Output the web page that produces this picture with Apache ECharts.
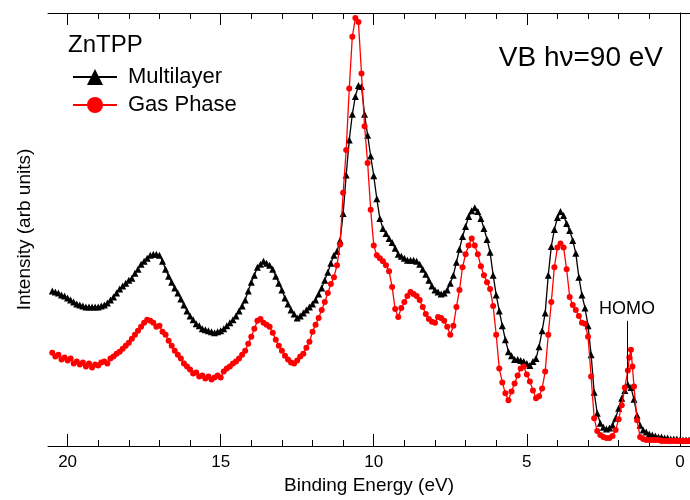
<!DOCTYPE html>
<html>
<head>
<meta charset="utf-8">
<script src="https://cdn.jsdelivr.net/npm/echarts@6/dist/echarts.min.js"></script>
<style>html,body{margin:0;padding:0;background:#fff}#c{width:690px;height:500px}</style>
</head>
<body>
<div id="c"></div>
<script>
// Binding energy (eV), intensity (arb units)
const multilayer = [
[20.5,156],[20.4,155],[20.3,154],[20.2,152],[20.1,151],[20.0,149],[19.9,147],[19.8,145],[19.7,143],[19.6,142],
[19.5,141],[19.4,140],[19.3,140],[19.2,140],[19.1,140],[19.0,140],[18.9,141],[18.8,142],[18.7,144],[18.6,147],
[18.5,150],[18.4,154],[18.3,158],[18.2,161],[18.1,164],[18.0,167],[17.9,169],[17.8,174],[17.7,178],[17.6,183],
[17.5,186],[17.4,189],[17.3,192],[17.2,193],[17.1,193],[17.0,192],[16.9,186],[16.8,178],[16.7,171],[16.6,165],
[16.5,159],[16.4,154],[16.3,148],[16.2,142],[16.1,136],[16.0,131],[15.9,127],[15.8,123],[15.7,121],[15.6,118],
[15.5,117],[15.4,116],[15.3,115],[15.2,114],[15.1,115],[15.0,116],[14.9,118],[14.8,121],[14.7,124],[14.6,127],
[14.5,131],[14.4,136],[14.3,141],[14.2,147],[14.1,156],[14.0,165],[13.9,172],[13.8,180],[13.7,183],[13.6,186],
[13.5,184],[13.4,182],[13.3,178],[13.2,171],[13.1,164],[13.0,157],[12.9,149],[12.8,143],[12.7,137],[12.6,133],
[12.5,129],[12.4,131],[12.3,134],[12.2,137],[12.1,140],[12.0,143],[11.9,147],[11.8,153],[11.7,159],[11.6,167],
[11.5,175],[11.4,184],[11.3,192],[11.2,196],[11.1,207],[11.0,234],[10.9,273],[10.8,308],[10.7,334],[10.6,352],
[10.5,363],[10.4,362],[10.3,334],[10.2,313],[10.1,292],[10.0,272],[9.9,249],[9.8,229],[9.7,219],[9.6,214],
[9.5,209],[9.4,205],[9.3,199],[9.2,193],[9.1,191],[9.0,189],[8.9,187],[8.8,187],[8.7,187],[8.6,186],
[8.5,183],[8.4,178],[8.3,173],[8.2,167],[8.1,161],[8.0,157],[7.9,155],[7.8,153],[7.7,154],[7.6,157],
[7.5,164],[7.4,172],[7.3,185],[7.2,198],[7.1,211],[7.0,221],[6.9,231],[6.8,237],[6.7,240],[6.6,236],
[6.5,229],[6.4,219],[6.3,208],[6.2,195],[6.1,172],[6.0,152],[5.9,136],[5.8,121],[5.7,107],[5.6,95],
[5.5,91],[5.4,87],[5.3,87],[5.2,86],[5.1,85],[5.0,83],[4.9,81],[4.8,85],[4.7,88],[4.6,100],
[4.5,116],[4.4,134],[4.3,172],[4.2,201],[4.1,218],[4.0,230],[3.9,236],[3.8,232],[3.7,224],[3.6,217],
[3.5,207],[3.4,194],[3.3,170],[3.2,152],[3.1,139],[3.0,121],[2.9,92],[2.8,54],[2.7,33],[2.6,23],
[2.5,19],[2.4,17],[2.3,18],[2.2,21],[2.1,28],[2.0,38],[1.9,48],[1.8,56],[1.7,62],[1.6,59],
[1.5,47],[1.4,31],[1.3,21],[1.2,16],[1.1,14],[1.0,12],[0.9,11],[0.8,10],[0.7,9],[0.6,9],
[0.5,8],[0.4,8],[0.3,7],[0.2,7],[0.1,7],[0.0,6],[-0.1,6],[-0.2,6],[-0.3,6]
];
const gasPhase = [
[20.5,94],[20.4,90],[20.3,92],[20.2,87],[20.1,89],[20.0,86],[19.9,88],[19.8,83],[19.7,85],[19.6,82],
[19.5,84],[19.4,80],[19.3,83],[19.2,79],[19.1,82],[19.0,81],[18.9,84],[18.8,85],[18.7,83],[18.6,88],
[18.5,90],[18.4,93],[18.3,95],[18.2,98],[18.1,101],[18.0,104],[17.9,108],[17.8,112],[17.7,116],[17.6,120],
[17.5,124],[17.4,127],[17.3,126],[17.2,124],[17.1,120],[17.0,121],[16.9,115],[16.8,112],[16.7,106],[16.6,101],
[16.5,96],[16.4,92],[16.3,88],[16.2,83],[16.1,80],[16.0,77],[15.9,73],[15.8,74],[15.7,70],[15.6,71],
[15.5,68],[15.4,70],[15.3,67],[15.2,69],[15.1,71],[15.0,69],[14.9,75],[14.8,78],[14.7,80],[14.6,83],
[14.5,85],[14.4,88],[14.3,92],[14.2,96],[14.1,103],[14.0,110],[13.9,118],[13.8,126],[13.7,128],[13.6,124],
[13.5,122],[13.4,120],[13.3,114],[13.2,107],[13.1,101],[13.0,96],[12.9,91],[12.8,87],[12.7,84],[12.6,83],
[12.5,86],[12.4,90],[12.3,93],[12.2,99],[12.1,105],[12.0,115],[11.9,122],[11.8,129],[11.7,137],[11.6,145],
[11.5,154],[11.4,163],[11.3,170],[11.2,182],[11.1,203],[11.0,255],[10.9,298],[10.8,360],[10.7,412],[10.6,431],
[10.5,427],[10.4,375],[10.3,322],[10.2,285],[10.1,238],[10.0,202],[9.9,192],[9.8,189],[9.7,186],[9.6,182],
[9.5,176],[9.4,160],[9.3,138],[9.2,130],[9.1,139],[9.0,145],[8.9,151],[8.8,155],[8.7,153],[8.6,151],
[8.5,147],[8.4,140],[8.3,133],[8.2,128],[8.1,125],[8.0,124],[7.9,130],[7.8,129],[7.7,126],[7.6,120],
[7.5,112],[7.4,121],[7.3,140],[7.2,157],[7.1,180],[7.0,193],[6.9,202],[6.8,209],[6.7,202],[6.6,193],
[6.5,181],[6.4,172],[6.3,165],[6.2,158],[6.1,141],[6.0,112],[5.9,78],[5.8,64],[5.7,53],[5.6,46],
[5.5,55],[5.4,63],[5.3,71],[5.2,78],[5.1,80],[5.0,72],[4.9,65],[4.8,56],[4.7,48],[4.6,50],
[4.5,58],[4.4,75],[4.3,112],[4.2,145],[4.1,180],[4.0,200],[3.9,204],[3.8,200],[3.7,178],[3.6,150],
[3.5,142],[3.4,137],[3.3,131],[3.2,124],[3.1,123],[3.0,110],[2.9,70],[2.8,28],[2.7,15],[2.6,11],
[2.5,9],[2.4,8],[2.3,8],[2.2,10],[2.1,16],[2.0,27],[1.9,41],[1.8,59],[1.7,76],[1.65,89],
[1.6,97],[1.55,80],[1.5,60],[1.4,26],[1.3,9],[1.2,7],[1.1,6],[1.0,6],[0.9,6],[0.8,6],
[0.7,6],[0.6,5],[0.5,5],[0.4,5],[0.3,5],[0.2,5],[0.1,5],[0.0,5],[-0.1,5],[-0.2,5],[-0.3,5]
];
const seriesNames = ['Multilayer', 'Gas Phase'];
const majorTicks = [0, 5, 10, 15, 20];
const minorTicks = [0,1,2,3,4,5,6,7,8,9,10,11,12,13,14,15,16,17,18,19,20];
const homoLine = [[1.73, 126], [1.73, 62]];

const FONT = '"Liberation Sans", Arial, sans-serif';
const chart = echarts.init(document.getElementById('c'), null, {renderer: 'canvas'});
const xBase = {
  type: 'value', min: -0.33, max: 20.64, inverse: true,
  splitLine: {show: false}
};
chart.setOption({
  animation: false,
  backgroundColor: '#fff',
  textStyle: {fontFamily: FONT},
  title: [
    {text: 'ZnTPP', left: 68, top: 33, padding: 0,
     textStyle: {fontSize: 24, fontWeight: 'normal', color: '#000', fontFamily: FONT}},
    {text: 'VB hν=90 eV', right: 27, top: 44, padding: 0,
     textStyle: {fontSize: 28, fontWeight: 'normal', color: '#000', fontFamily: FONT}}
  ],
  legend: {
    orient: 'vertical', left: 72, top: 66, padding: 0,
    itemWidth: 44, itemHeight: 20, itemGap: 6,
    textStyle: {fontSize: 22, color: '#000', fontFamily: FONT, padding: [0, 0, 0, 6]},
    data: seriesNames
  },
  grid: {left: 48, right: 0, top: 13, bottom: 51, containLabel: false},
  xAxis: [
    Object.assign({}, xBase, {
      position: 'bottom',
      axisLine: {show: true, lineStyle: {color: '#000', width: 1}},
      axisTick: {show: true, inside: true, length: 6, customValues: minorTicks, lineStyle: {color: '#000'}},
      axisLabel: {show: true, customValues: majorTicks, fontSize: 17, color: '#000', margin: 8, fontFamily: FONT},
      name: 'Binding Energy (eV)', nameLocation: 'middle', nameGap: 30,
      nameTextStyle: {fontSize: 19, color: '#000', fontFamily: FONT}
    }),
    Object.assign({}, xBase, {
      position: 'top',
      axisLine: {show: true, lineStyle: {color: '#000', width: 1}},
      axisTick: {show: true, inside: true, length: 6, customValues: minorTicks, lineStyle: {color: '#000'}},
      axisLabel: {show: false}
    }),
    Object.assign({}, xBase, {
      position: 'bottom',
      axisLine: {show: false},
      axisTick: {show: true, inside: true, length: 12, customValues: majorTicks, lineStyle: {color: '#000'}},
      axisLabel: {show: false}
    }),
    Object.assign({}, xBase, {
      position: 'top',
      axisLine: {show: false},
      axisTick: {show: true, inside: true, length: 12, customValues: majorTicks, lineStyle: {color: '#000'}},
      axisLabel: {show: false}
    })
  ],
  yAxis: {
    type: 'value', min: 0, max: 436,
    axisLine: {show: true, lineStyle: {color: '#000', width: 1}},
    axisTick: {show: false}, axisLabel: {show: false}, splitLine: {show: false},
    name: 'Intensity (arb units)', nameLocation: 'middle', nameRotate: 90, nameGap: 14,
    nameTextStyle: {fontSize: 19, color: '#000', fontFamily: FONT}
  },
  series: [
    {
      name: seriesNames[0], type: 'line', data: multilayer,
      xAxisIndex: 0, yAxisIndex: 0,
      symbol: 'triangle', symbolSize: 7, showAllSymbol: true,
      lineStyle: {color: '#000', width: 1.3},
      itemStyle: {color: '#000'},
      z: 2,
      markLine: {
        silent: true, symbol: ['none', 'none'], animation: false,
        lineStyle: {color: '#000', width: 1, type: 'solid'},
        label: {show: true, position: 'start', formatter: 'HOMO', fontSize: 18, color: '#000', distance: 3, fontFamily: FONT},
        data: [[{coord: homoLine[0]}, {coord: homoLine[1]}]]
      }
    },
    {
      name: seriesNames[1], type: 'line', data: gasPhase,
      xAxisIndex: 0, yAxisIndex: 0,
      symbol: 'circle', symbolSize: 6, showAllSymbol: true,
      lineStyle: {color: '#ff0000', width: 1.3},
      itemStyle: {color: '#ff0000'},
      z: 3
    }
  ]
});
</script>
</body>
</html>
